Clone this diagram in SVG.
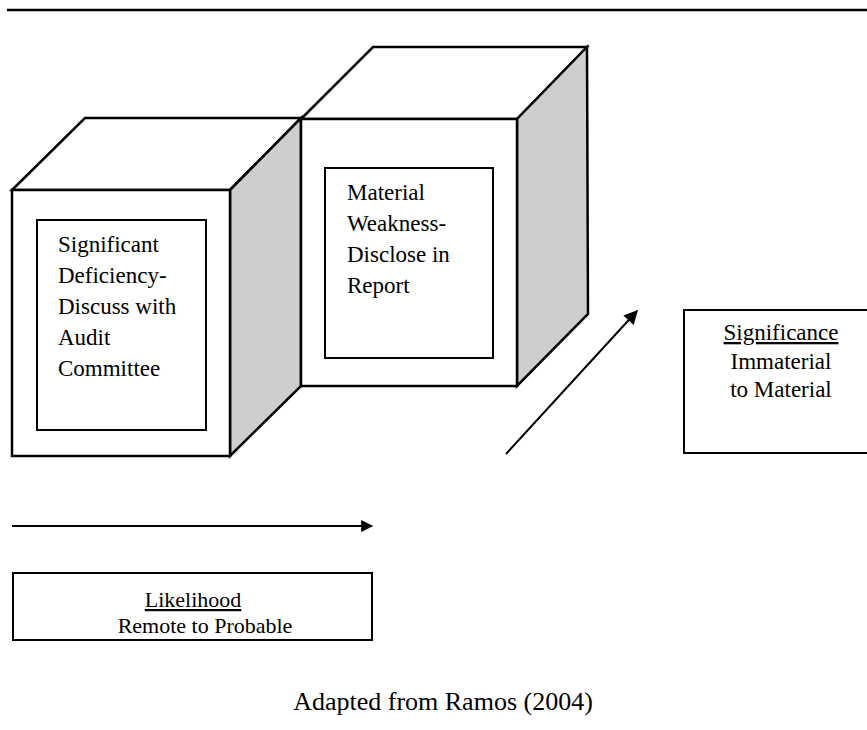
<svg xmlns="http://www.w3.org/2000/svg" width="867" height="730" viewBox="0 0 867 730">
<style>
.edge{fill:#fff;stroke:#000;stroke-width:2.5;stroke-linejoin:miter}
.shade{fill:#cecece;stroke:#000;stroke-width:2.5}
.inner{fill:#fff;stroke:#000;stroke-width:2}
.box{fill:#fff;stroke:#000;stroke-width:2}
.t{font-family:"Liberation Serif","Times New Roman",serif;font-size:23px;fill:#000}
.s{font-size:22px}
.c{text-anchor:middle}
.line{stroke:#000;stroke-width:2;fill:none}
</style>
<defs>
<marker id="ah" viewBox="0 0 10 10" refX="9" refY="5" markerWidth="16" markerHeight="12" markerUnits="userSpaceOnUse" orient="auto">
<path d="M0,0 L10,5 L0,10 z" fill="#000"/>
</marker>
<marker id="ah2" viewBox="0 0 10 10" refX="9" refY="5" markerWidth="18" markerHeight="14" markerUnits="userSpaceOnUse" orient="auto">
<path d="M0,0 L10,5 L0,10 z" fill="#000"/>
</marker>
</defs>
<line x1="7" y1="10" x2="867" y2="10" stroke="#000" stroke-width="2.5"/>
<g id="cube-significant">
<polygon class="edge" points="12,190 85,118 301,118 230,190"/>
<polygon class="shade" points="230,190 301,118 301,386 230,456"/>
<rect class="edge" x="12" y="190" width="218" height="266"/>
<rect class="inner" x="37" y="220" width="169" height="210"/>
<text class="t" x="58" y="252">Significant</text>
<text class="t" x="58" y="283">Deficiency-</text>
<text class="t" x="58" y="314">Discuss with</text>
<text class="t" x="58" y="345">Audit</text>
<text class="t" x="58" y="376">Committee</text>
</g>
<g id="cube-material">
<polygon class="edge" points="301,119 373,47 587,47 517,119"/>
<polygon class="shade" points="517,119 587,47 588,314 517,386"/>
<rect class="edge" x="301" y="119" width="216" height="267"/>
<rect class="inner" x="325" y="168" width="168" height="190"/>
<text class="t" x="347" y="200">Material</text>
<text class="t" x="347" y="231">Weakness-</text>
<text class="t" x="347" y="262">Disclose in</text>
<text class="t" x="347" y="293">Report</text>
</g>
<g id="significance">
<rect class="box" x="684" y="310" width="190" height="143"/>
<text class="t c" x="781" y="340" text-decoration="underline">Significance</text>
<text class="t c" x="781" y="369">Immaterial</text>
<text class="t c" x="781" y="397">to Material</text>
</g>
<g id="likelihood">
<rect class="box" x="13" y="573" width="359" height="67"/>
<text class="t s c" x="193" y="607" text-decoration="underline">Likelihood</text>
<text class="t s c" x="205" y="633">Remote to Probable</text>
</g>
<g id="connectors">
<line class="line" x1="12" y1="526" x2="372" y2="526" marker-end="url(#ah)"/>
<line class="line" x1="506" y1="454" x2="637" y2="311" marker-end="url(#ah2)"/>
</g>
<g id="caption">
<text class="t c" x="443" y="710" style="font-size:26px">Adapted from Ramos (2004)</text>
</g>
</svg>
